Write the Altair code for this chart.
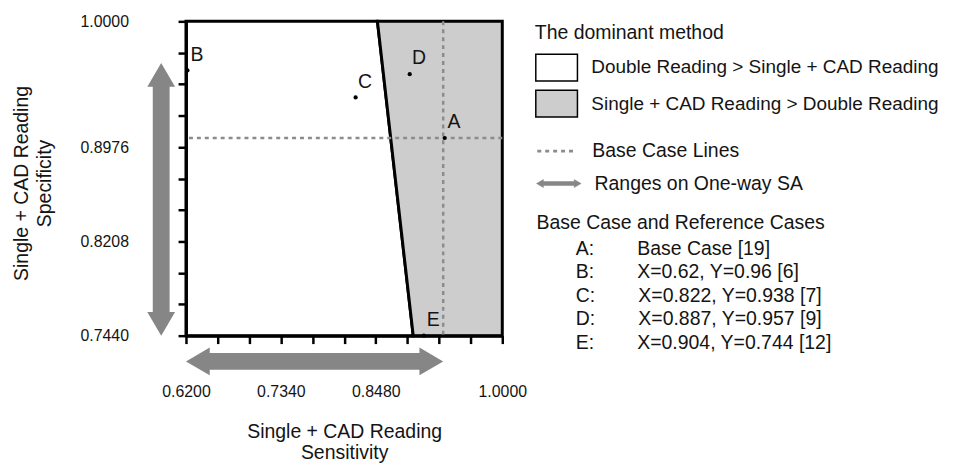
import altair as alt
import pandas as pd

# ---------------- data ----------------
region_names = ["Double Reading > Single + CAD Reading",
                "Single + CAD Reading > Double Reading"]
region_colors = ["#ffffff", "#cdcdcd"]

sens_domain = [0.62, 1.0]
spec_domain = [0.744, 1.0]

# dominance boundary (sensitivity at top and bottom of the specificity range)
boundary_spec = [1.0, 0.744]
boundary_sens = [0.850, 0.893]

case_letters = ["A", "B", "C", "D", "E"]
case_sens = [0.929, 0.62, 0.822, 0.887, 0.904]
case_spec = [0.905, 0.96, 0.938, 0.957, 0.744]
case_desc = ["Base Case [19]", "X=0.62, Y=0.96 [6]", "X=0.822, Y=0.938 [7]",
             "X=0.887, Y=0.957 [9]", "X=0.904, Y=0.744 [12]"]

# one-way sensitivity-analysis ranges
sens_range = [0.62, 0.929]
spec_range = [0.744, 0.966]

x_ticks = [0.620, 0.658, 0.696, 0.734, 0.772, 0.810, 0.848, 0.886, 0.924, 0.962, 1.000]
x_tick_labels = [0.620, 0.734, 0.848, 1.000]
y_ticks = [0.7440, 0.7696, 0.7952, 0.8208, 0.8464, 0.8720, 0.8976, 0.9232, 0.9488, 0.9744, 1.0000]
y_tick_labels = [0.7440, 0.8208, 0.8976, 1.0000]

legend_title_main = "The dominant method"
legend_title_cases = "Base Case and Reference Cases"
base_line_label = "Base Case Lines"
range_label = "Ranges on One-way SA"
x_title = ["Single + CAD Reading", "Sensitivity"]
y_title = ["Single + CAD Reading", "Specificity"]

# ---------------- layout / style ----------------
W, H = 319, 317
FONT = "Liberation Sans"
TXT = "#141414"
GREY_ARROW = "#868686"
GREY_DASH = "#8c8c8c"
FS = 19.6
LX = 4.3  # legend x shift

regions = pd.DataFrame({
    "region": [region_names[0]] * 2 + [region_names[1]] * 2,
    "spec": boundary_spec * 2,
    "sens": boundary_sens * 2,
    "edge": [sens_domain[0]] * 2 + [sens_domain[1]] * 2,
})

NB = "\u00a0" * 8
cases = pd.DataFrame({
    "letter": case_letters,
    "sens": case_sens,
    "spec": case_spec,
    "entry": [f"{l}:{NB}{d}" for l, d in zip(case_letters, case_desc)],
})

base = pd.DataFrame({"sens": [case_sens[0]], "spec": [case_spec[0]], "kind": [base_line_label]})
hrange = pd.DataFrame({"lo": [sens_range[0]], "hi": [sens_range[1]], "kind": [range_label]})
vrange = pd.DataFrame({"lo": [spec_range[0]], "hi": [spec_range[1]], "kind": [range_label]})

x_codes = [round(v * 1000) for v in x_tick_labels]
y_codes = [round(v * 10000) for v in y_tick_labels]

xscale = alt.Scale(domain=sens_domain, nice=False, zero=False)
yscale = alt.Scale(domain=spec_domain, nice=False, zero=False)

common_axis = dict(grid=False, labelFontSize=16, labelColor=TXT, labelFont=FONT,
                   tickSize=8, tickWidth=2.5, tickColor="black",
                   domainColor="black", domainWidth=3, labelOverlap=False,
                   labelFlush=False, titleFont=FONT, titleFontSize=FS,
                   titleFontWeight="normal", titleColor=TXT, zindex=1)

xaxis = alt.Axis(values=x_ticks,
                 labelExpr=f"indexof({x_codes}, round(datum.value*1000)) >= 0 ? format(datum.value, '.4f') : ''",
                 title=x_title, labelPadding=40, titleX=W / 2, titleY=87.5,
                 titleBaseline="top", titleAlign="center", titleLineHeight=21.5,
                 **common_axis)
yaxis = alt.Axis(values=y_ticks,
                 labelExpr=f"indexof({y_codes}, round(datum.value*10000)) >= 0 ? format(datum.value, '.4f') : ''",
                 title=y_title, labelPadding=50, titleX=-174.5, titleY=163,
                 titleAngle=270, titleBaseline="top", titleAlign="center",
                 titleLineHeight=23.3, **common_axis)

leg_common = dict(orient="none", direction="vertical", padding=0, offset=0,
                  labelFont=FONT, labelColor=TXT, labelLimit=1000,
                  titleFontSize=FS, titleFont=FONT, titleColor=TXT,
                  titleFontWeight="normal", titleLimit=1000)

BOX = "M-1,-0.964H2V0.964H-1Z"
DARROW = ("M-1,0L-0.69,-0.178L-0.69,-0.089L0.69,-0.089L0.69,-0.178L1,0"
          "L0.69,0.178L0.69,0.089L-0.69,0.089L-0.69,0.178Z")

leg_regions = alt.Legend(title=legend_title_main, legendX=347.5 + LX, legendY=3.0,
                         symbolType=BOX, symbolSize=784, symbolStrokeColor="black",
                         symbolStrokeWidth=1.5, labelOffset=27, titlePadding=9,
                         rowPadding=2.5, labelFontSize=19.1, **leg_common)
leg_dash = alt.Legend(title=None, legendX=348.5 + LX, legendY=111.4, symbolType="stroke",
                      symbolSize=1296, symbolStrokeWidth=3, labelOffset=18,
                      labelFontSize=FS, **leg_common)
leg_arrow = alt.Legend(title=None, legendX=348.7 + LX, legendY=140.6, symbolType=DARROW,
                       symbolSize=2025, symbolFillColor=GREY_ARROW,
                       symbolStrokeWidth=0.5, labelOffset=13, labelFontSize=FS,
                       **leg_common)
leg_cases = alt.Legend(title=legend_title_cases, legendX=349.2 + LX, legendY=194.2,
                       symbolSize=1, symbolOpacity=0, symbolStrokeWidth=0,
                       labelOffset=20, titlePadding=6, rowPadding=2.65,
                       labelFontSize=FS, **leg_common)

X = lambda f: alt.X(f"{f}:Q", scale=xscale, axis=xaxis)
Y = lambda f: alt.Y(f"{f}:Q", scale=yscale, axis=yaxis)

area = alt.Chart(regions).mark_area(orient="horizontal", opacity=1).encode(
    y=Y("spec"), x=X("sens"), x2="edge:Q",
    fill=alt.Fill("region:N", scale=alt.Scale(domain=region_names, range=region_colors),
                  legend=leg_regions),
    stroke=alt.value("black"), strokeWidth=alt.value(3),
)

dash_scale = alt.Scale(domain=[base_line_label], range=[[4, 4]])
hline = alt.Chart(base).mark_rule(color=GREY_DASH).encode(
    y=Y("spec"), strokeDash=alt.StrokeDash("kind:N", scale=dash_scale, legend=leg_dash),
    strokeWidth=alt.value(2.5))
vline = alt.Chart(base).mark_rule(color=GREY_DASH).encode(
    x=X("sens"), strokeDash=alt.StrokeDash("kind:N", scale=dash_scale, legend=leg_dash),
    strokeWidth=alt.value(2.5))

arrow_scale = alt.Scale(domain=[range_label], range=[GREY_ARROW])
AY = H + 26   # horizontal arrow sits below the x axis
AX = -25      # vertical arrow sits left of the y axis
HEAD = dict(filled=True, color=GREY_ARROW, size=784, opacity=1, strokeWidth=0)

hbody = alt.Chart(hrange).mark_rule(xOffset=22, x2Offset=-22).encode(
    x=X("lo"), x2="hi:Q", y=alt.value(AY),
    color=alt.Color("kind:N", scale=arrow_scale, legend=leg_arrow),
    strokeWidth=alt.value(17))
hleft = alt.Chart(hrange).mark_point(shape="M0,0L1.71,-1L1.71,1Z", **HEAD).encode(
    x=X("lo"), y=alt.value(AY))
hright = alt.Chart(hrange).mark_point(shape="M0,0L-1.71,-1L-1.71,1Z", **HEAD).encode(
    x=X("hi"), y=alt.value(AY))

vbody = alt.Chart(vrange).mark_rule(yOffset=-22, y2Offset=22).encode(
    y=Y("lo"), y2="hi:Q", x=alt.value(AX),
    color=alt.Color("kind:N", scale=arrow_scale, legend=leg_arrow),
    strokeWidth=alt.value(17))
vup = alt.Chart(vrange).mark_point(shape="M0,0L-1,1.71L1,1.71Z", **HEAD).encode(
    y=Y("hi"), x=alt.value(AX))
vdown = alt.Chart(vrange).mark_point(shape="M0,0L-1,-1.71L1,-1.71Z", **HEAD).encode(
    y=Y("lo"), x=alt.value(AX))

pts = alt.Chart(cases).mark_point(filled=True, color="black", size=18, opacity=1,
                                  xOffset=1.5).encode(
    x=X("sens"), y=Y("spec"),
    shape=alt.Shape("entry:N", scale=alt.Scale(domain=list(cases["entry"]),
                                               range=["circle"] * len(case_letters)),
                    legend=leg_cases))
labels = alt.Chart(cases).mark_text(dx=11, dy=-16, fontSize=FS, font=FONT, color=TXT,
                                    align="center", baseline="middle").encode(
    x=X("sens"), y=Y("spec"), text="letter:N")

chart = alt.layer(area, hline, vline, hbody, hleft, hright, vbody, vup, vdown, labels, pts).properties(
    width=W, height=H,
    autosize=alt.AutoSizeParams(type="none"),
    padding={"left": 179.5, "top": 11.5, "right": 946 - 179.5 - W, "bottom": 458 - 11.5 - H},
).configure_view(stroke="transparent").configure(font=FONT)

chart.save("out.html", embed_options={"renderer": "svg", "actions": False})
